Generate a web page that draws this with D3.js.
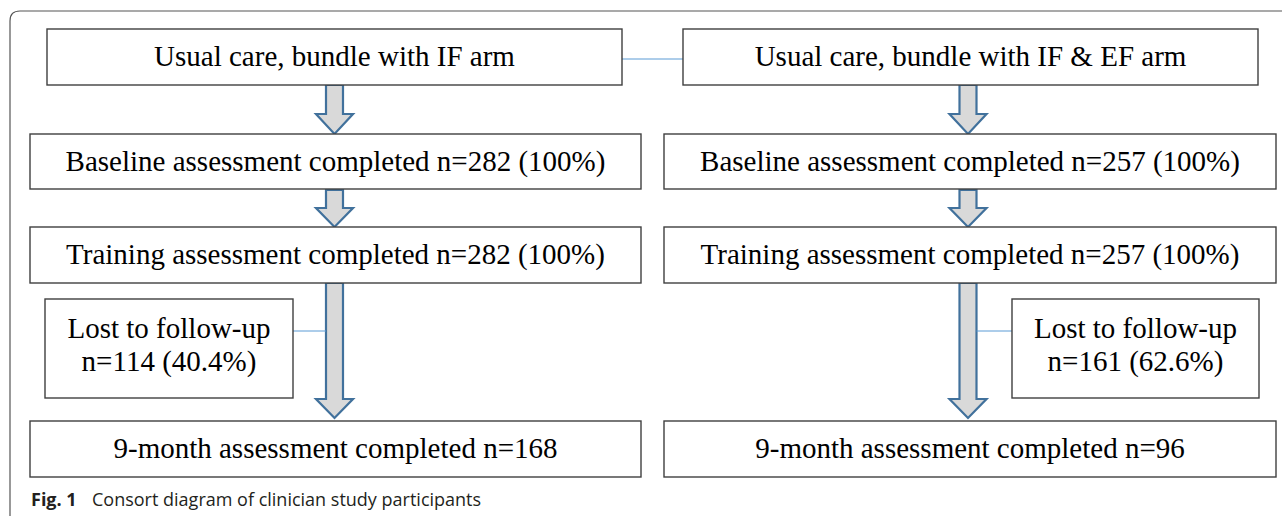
<!DOCTYPE html>
<html>
<head>
<meta charset="utf-8">
<script src="https://cdn.jsdelivr.net/npm/d3@7"></script>
<style>
  html, body { margin: 0; padding: 0; background: #fff; }
  svg { display: block; }
</style>
</head>
<body>
<svg id="chart" width="1282" height="516"></svg>
<script>
// ---- data ----
const arms = ["IF", "IF & EF"];
const armTitles = ["Usual care, bundle with IF arm", "Usual care, bundle with IF & EF arm"];
const baselineN = [282, 257];
const baselinePct = ["100%", "100%"];
const trainingN = [282, 257];
const trainingPct = ["100%", "100%"];
const lostN = [114, 161];
const lostPct = ["40.4%", "62.6%"];
const finalN = [168, 96];
const captionBold = "Fig. 1";
const captionText = "Consort diagram of clinician study participants";

// ---- layout ----
const svg = d3.select("#chart");
const W = 1282, H = 516;
const serif = "'Liberation Serif', 'Times New Roman', serif";
const boxStroke = "#3f3f3f";
const arrowStroke = "#41719c";
const arrowFill = "#d9d9d9";
const linkColor = "#5b9bd5";
const fs = 29;

// outer frame (rounded, clipped at right/bottom)
svg.append("path")
  .attr("d", `M10,${H+5} L10,21 Q10,11 20,11 L${W+5},11`)
  .attr("fill", "none").attr("stroke", "#555").attr("stroke-width", 1.2);

// column geometry
const col = d3.scaleOrdinal().domain(arms).range([0, 1]);
const titleX = [[47, 622], [683, 1258]];
const wideX = [[30, 641], [664, 1276]];
const arrowCx = [334.5, 968];
const lostX = [[45, 293], [1012, 1259]];

const rowY = {
  title: [29, 85],
  base: [134, 189],
  train: [227, 283],
  lost: [299, 398],
  final: [421, 477]
};

function box(x0, x1, y0, y1, lines, off) {
  const g = svg.append("g");
  g.append("rect")
    .attr("x", x0).attr("y", y0).attr("width", x1 - x0).attr("height", y1 - y0)
    .attr("fill", "#fff").attr("stroke", boxStroke).attr("stroke-width", 1.4);
  const cy = (y0 + y1) / 2 + (off || 0);
  const lh = 33;
  g.selectAll("text").data(lines).join("text")
    .attr("x", (x0 + x1) / 2)
    .attr("y", (d, i) => cy + (i - (lines.length - 1) / 2) * lh)
    .attr("dy", "0.3em")
    .attr("text-anchor", "middle")
    .attr("font-family", serif)
    .attr("font-size", fs)
    .attr("fill", "#000")
    .text(d => d);
}

function arrow(cx, yTop, yHeadStart, yTip) {
  const sw = 8.5, hw = 18.5;
  const pts = [
    [cx - sw, yTop], [cx + sw, yTop], [cx + sw, yHeadStart], [cx + hw, yHeadStart],
    [cx, yTip], [cx - hw, yHeadStart], [cx - sw, yHeadStart]
  ];
  svg.append("path")
    .attr("d", d3.line()(pts) + "Z")
    .attr("fill", arrowFill).attr("stroke", arrowStroke).attr("stroke-width", 2.2)
    .attr("stroke-linejoin", "miter");
}

// connector between arm titles
svg.append("line")
  .attr("x1", titleX[0][1]).attr("x2", titleX[1][0])
  .attr("y1", 59).attr("y2", 59)
  .attr("stroke", linkColor).attr("stroke-width", 1);

arms.forEach((a) => {
  const i = col(a);
  const cx = arrowCx[i];
  arrow(cx, rowY.title[1], 114, rowY.base[0]);
  arrow(cx, rowY.base[1] + 1, 208, rowY.train[0]);
  arrow(cx, rowY.train[1], 399, 418);
  const lx = i === 0 ? lostX[0][1] : lostX[1][0];
  const ax = i === 0 ? cx - 8.5 : cx + 8.5;
  svg.append("line")
    .attr("x1", Math.min(lx, ax)).attr("x2", Math.max(lx, ax))
    .attr("y1", 331).attr("y2", 331)
    .attr("stroke", linkColor).attr("stroke-width", 1);
});

arms.forEach((a) => {
  const i = col(a);
  box(titleX[i][0], titleX[i][1], rowY.title[0], rowY.title[1], [armTitles[i]], 0);
  box(wideX[i][0], wideX[i][1], rowY.base[0], rowY.base[1],
      [`Baseline assessment completed n=${baselineN[i]} (${baselinePct[i]})`], 1);
  box(wideX[i][0], wideX[i][1], rowY.train[0], rowY.train[1],
      [`Training assessment completed n=${trainingN[i]} (${trainingPct[i]})`], 0);
  box(lostX[i][0], lostX[i][1], rowY.lost[0], rowY.lost[1],
      ["Lost to follow-up", `n=${lostN[i]} (${lostPct[i]})`], -3);
  box(wideX[i][0], wideX[i][1], rowY.final[0], rowY.final[1],
      [`9-month assessment completed n=${finalN[i]}`], 0);
});

// caption
const cap = svg.append("text")
  .attr("x", 31).attr("y", 506)
  .attr("font-family", "'Open Sans', 'Noto Sans', sans-serif")
  .attr("font-size", 18)
  .attr("fill", "#231f20");
cap.append("tspan").attr("font-weight", "bold").text(captionBold);
cap.append("tspan").attr("x", 92).text(captionText);
</script>
</body>
</html>
